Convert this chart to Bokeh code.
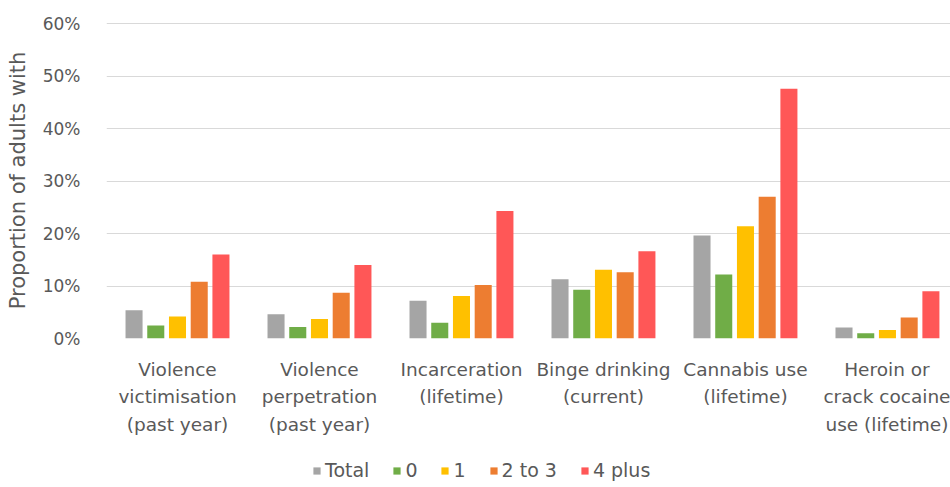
import numpy as np
from bokeh.plotting import figure
from bokeh.layouts import column
from bokeh.models import Range1d, FixedTicker, NumeralTickFormatter, Legend, LegendItem
from bokeh.embed import file_html
from bokeh.resources import INLINE

# Outcome categories (x axis)
categories = [
    "Violence\nvictimisation\n(past year)",
    "Violence\nperpetration\n(past year)",
    "Incarceration\n(lifetime)",
    "Binge drinking\n(current)",
    "Cannabis use\n(lifetime)",
    "Heroin or\ncrack cocaine\nuse (lifetime)",
]

# Proportion of adults with each outcome, by number of ACEs
total = [0.054, 0.046, 0.072, 0.113, 0.196, 0.021]
aces_0 = [0.025, 0.022, 0.030, 0.093, 0.122, 0.010]
aces_1 = [0.042, 0.037, 0.081, 0.131, 0.214, 0.016]
aces_2_3 = [0.108, 0.087, 0.102, 0.126, 0.270, 0.040]
aces_4_plus = [0.160, 0.140, 0.243, 0.166, 0.476, 0.090]

series_names = ["Total", "0", "1", "2 to 3", "4 plus"]
series_values = [total, aces_0, aces_1, aces_2_3, aces_4_plus]
series_colors = ["#A5A5A5", "#70AD47", "#FFC000", "#ED7D31", "#FF5757"]

y_ticks = [0.0, 0.1, 0.2, 0.3, 0.4, 0.5, 0.6]

FONT = "DejaVu Sans"
TEXT = "#595959"

p = figure(
    width=950, height=447,
    x_range=Range1d(0, 5.944), y_range=Range1d(0, 0.602),
    output_backend="svg", toolbar_location=None,
    min_border_left=106, min_border_right=0,
    min_border_top=22, min_border_bottom=109,
    outline_line_color=None,
)

centers = np.arange(len(categories)) + 0.5
pitch = 0.153
bar_w = 0.12
for i, (name, vals, col) in enumerate(zip(series_names, series_values, series_colors)):
    p.vbar(x=centers + (i - 2) * pitch, top=vals, width=bar_w,
           fill_color=col, line_color=None)

# y axis
p.yaxis.ticker = FixedTicker(ticks=y_ticks)
p.yaxis.formatter = NumeralTickFormatter(format="0%")
p.yaxis.axis_line_color = None
p.yaxis.major_tick_line_color = None
p.yaxis.minor_tick_line_color = None
p.yaxis.major_label_standoff = 20
p.yaxis.major_label_text_font = FONT
p.yaxis.major_label_text_font_size = "17px"
p.yaxis.major_label_text_color = TEXT
p.yaxis.axis_label = "Proportion of adults with"
p.yaxis.axis_label_text_font = FONT
p.yaxis.axis_label_text_font_size = "21px"
p.yaxis.axis_label_text_font_style = "normal"
p.yaxis.axis_label_text_color = TEXT
p.yaxis.axis_label_standoff = 10

# x axis with multi-line category labels
p.xaxis.ticker = FixedTicker(ticks=list(centers))
p.xaxis.major_label_overrides = {float(c): lab for c, lab in zip(centers, categories)}
p.xaxis.axis_line_color = None
p.xaxis.major_tick_line_color = None
p.xaxis.minor_tick_line_color = None
p.xaxis.major_label_standoff = 14
p.xaxis.major_label_text_font = FONT
p.xaxis.major_label_text_font_size = "18.5px"
p.xaxis.major_label_text_color = TEXT
p.xaxis.major_label_text_line_height = 1.31

# grid
p.xgrid.grid_line_color = None
p.ygrid.ticker = FixedTicker(ticks=y_ticks)
p.ygrid.grid_line_color = "#D9D9D9"
p.ygrid.grid_line_width = 1

# legend strip under the chart; its swatch renderers sit outside the visible range
lg = figure(
    width=950, height=40,
    x_range=Range1d(100, 101), y_range=Range1d(100, 101),
    output_backend="svg", toolbar_location=None,
    x_axis_location=None, y_axis_location=None,
    min_border=0, outline_line_color=None,
)
lg.grid.visible = False
items = []
for name, vals, col in zip(series_names, series_values, series_colors):
    r = lg.vbar(x=centers, top=vals, width=bar_w, fill_color=col, line_color=None)
    items.append(LegendItem(label=name, renderers=[r]))

leg = Legend(
    items=items, orientation="horizontal", location=(206, 6),
    padding=0, margin=0, spacing=23,
    glyph_width=9, glyph_height=9, label_standoff=4, label_width=0,
    label_text_font=FONT, label_text_font_size="19px", label_text_color=TEXT,
    border_line_color=None, background_fill_alpha=0,
)
lg.add_layout(leg)

open("out.html", "w").write(file_html(column(p, lg, spacing=0), INLINE))
